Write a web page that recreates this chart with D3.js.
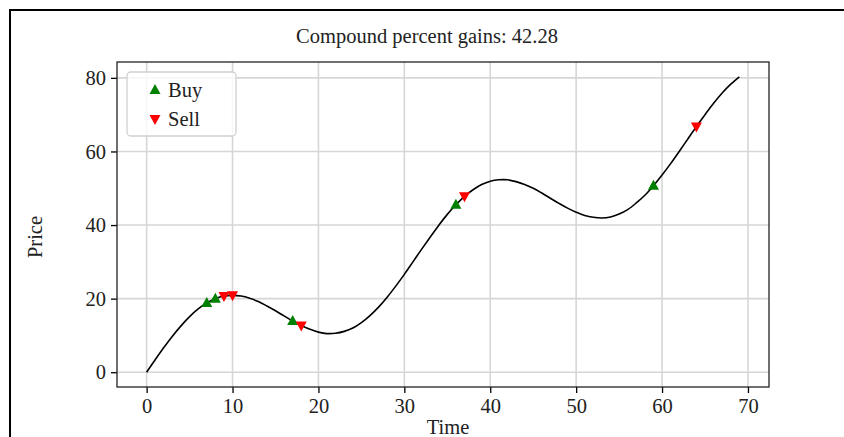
<!DOCTYPE html>
<html>
<head>
<meta charset="utf-8">
<script src="https://cdn.jsdelivr.net/npm/d3@7"></script>
<style>
  body { margin: 0; background: #fff; }
  svg { display: block; font-family: "Liberation Serif", "DejaVu Serif", serif; }
</style>
</head>
<body>
<div id="chart"></div>
<script>
// price series, one value per time step
const price = [
  0.0, 3.4, 6.7, 9.8, 12.6, 15.1, 17.2, 18.8, 20.0, 20.7,
  20.9, 20.7, 20.1, 19.2, 18.0, 16.7, 15.3, 13.9, 12.7, 11.7,
  10.9, 10.5, 10.6, 11.1, 12.0, 13.5, 15.4, 17.7, 20.4, 23.4,
  26.6, 30.0, 33.4, 36.7, 39.9, 42.9, 45.5, 47.8, 49.6, 51.0,
  51.9, 52.3, 52.3, 51.8, 51.0, 50.0, 48.7, 47.3, 45.9, 44.6,
  43.5, 42.6, 42.1, 41.9, 42.2, 43.0, 44.2, 46.0, 48.1, 50.7,
  53.6, 56.7, 60.0, 63.4, 66.8, 70.0, 73.1, 75.9, 78.3, 80.3
];
const buyTimes = [7, 8, 17, 36, 59];
const sellTimes = [9, 10, 18, 37, 64];
const xTicks = [0, 10, 20, 30, 40, 50, 60, 70];
const yTicks = [0, 20, 40, 60, 80];
const title = "Compound percent gains: 42.28";

const W = 844, H = 437;
const margin = {top: 62, right: 75, bottom: 50, left: 117};
const width = W - margin.left - margin.right;
const height = H - margin.top - margin.bottom;
const fontSize = "20.5px";

const svg = d3.select("#chart").append("svg")
    .attr("width", W)
    .attr("height", H);

// outer frame (only top and left edges visible)
svg.append("path")
    .attr("d", "M10,437 L10,10 L844,10")
    .attr("fill", "none")
    .attr("stroke", "#000")
    .attr("stroke-width", 2);

const g = svg.append("g")
    .attr("transform", "translate(" + margin.left + "," + margin.top + ")");

// matplotlib-like 5% padding
const n = price.length - 1;
const yMax = d3.max(price), yMin = d3.min(price);
const x = d3.scaleLinear()
    .domain([-0.05 * n, n + 0.05 * n])
    .range([0, width]);
const y = d3.scaleLinear()
    .domain([yMin - 0.05 * (yMax - yMin), yMax + 0.05 * (yMax - yMin)])
    .range([height, 0]);

// grid
g.append("g").selectAll("line")
    .data(xTicks)
    .enter().append("line")
    .attr("x1", d => x(d)).attr("x2", d => x(d))
    .attr("y1", 0).attr("y2", height)
    .attr("stroke", "#d6d6d6")
    .attr("stroke-width", 1.6);
g.append("g").selectAll("line")
    .data(yTicks)
    .enter().append("line")
    .attr("x1", 0).attr("x2", width)
    .attr("y1", d => y(d)).attr("y2", d => y(d))
    .attr("stroke", "#d6d6d6")
    .attr("stroke-width", 1.6);

// price line
const line = d3.line()
    .x((d, i) => x(i))
    .y(d => y(d))
    .curve(d3.curveCatmullRom);
g.append("path")
    .datum(price)
    .attr("fill", "none")
    .attr("stroke", "#000")
    .attr("stroke-width", 1.6)
    .attr("d", line);

// markers
const triUp = "M0,-6L5.5,4L-5.5,4Z";
const triDown = "M0,6L5.5,-4L-5.5,-4Z";
g.append("g").selectAll("path")
    .data(buyTimes)
    .enter().append("path")
    .attr("d", triUp)
    .attr("fill", "#008000")
    .attr("transform", d => "translate(" + x(d) + "," + y(price[d]) + ")");
g.append("g").selectAll("path")
    .data(sellTimes)
    .enter().append("path")
    .attr("d", triDown)
    .attr("fill", "#ff0000")
    .attr("transform", d => "translate(" + x(d) + "," + y(price[d]) + ")");

// axes
const xAxis = g.append("g")
    .attr("transform", "translate(0," + height + ")")
    .call(d3.axisBottom(x).tickValues(xTicks).tickSize(6).tickPadding(5));
const yAxis = g.append("g")
    .call(d3.axisLeft(y).tickValues(yTicks).tickSize(6).tickPadding(5));
[xAxis, yAxis].forEach(a => {
  a.attr("font-family", "'Liberation Serif', serif").attr("font-size", null);
  a.select(".domain").remove();
  a.selectAll("line").attr("stroke", "#000").attr("stroke-width", 1.3);
  a.selectAll("text")
      .attr("fill", "#222")
      .style("font-size", fontSize);
});

// spines
g.append("rect")
    .attr("width", width)
    .attr("height", height)
    .attr("fill", "none")
    .attr("stroke", "#222")
    .attr("stroke-width", 1.3);

// title and labels
svg.append("text")
    .attr("x", 427).attr("y", 43)
    .attr("text-anchor", "middle")
    .style("font-size", fontSize)
    .attr("fill", "#222")
    .text(title);
svg.append("text")
    .attr("x", 448).attr("y", 434)
    .attr("text-anchor", "middle")
    .style("font-size", fontSize)
    .attr("fill", "#222")
    .text("Time");
svg.append("text")
    .attr("transform", "translate(42,237) rotate(-90)")
    .attr("text-anchor", "middle")
    .style("font-size", fontSize)
    .attr("fill", "#222")
    .text("Price");

// legend
const legend = svg.append("g").attr("transform", "translate(127,72)");
legend.append("rect")
    .attr("width", 109).attr("height", 64)
    .attr("rx", 4)
    .attr("fill", "#fff").attr("fill-opacity", 0.8)
    .attr("stroke", "#d0d0d0").attr("stroke-width", 1.3);
const items = [{label: "Buy", d: triUp, color: "#008000"},
               {label: "Sell", d: triDown, color: "#ff0000"}];
items.forEach((it, i) => {
  legend.append("path")
      .attr("d", it.d)
      .attr("fill", it.color)
      .attr("transform", "translate(28," + (18 + i * 29) + ")");
  legend.append("text")
      .attr("x", 41).attr("y", 25 + i * 29)
      .style("font-size", fontSize)
      .attr("fill", "#222")
      .text(it.label);
});
</script>
</body>
</html>
